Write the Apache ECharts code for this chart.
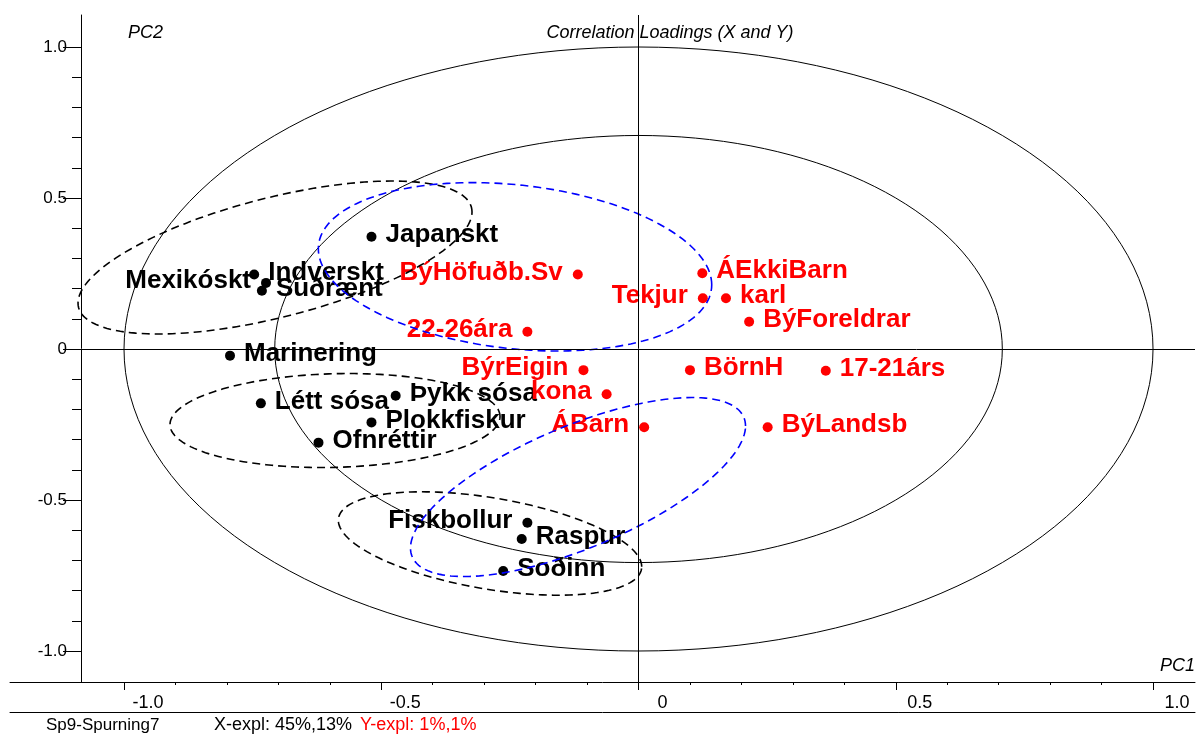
<!DOCTYPE html>
<html>
<head>
<meta charset="utf-8">
<style>
  html, body { margin: 0; padding: 0; background: #fff; }
  #chart { width: 1203px; height: 734px; }
</style>
<script src="https://cdn.jsdelivr.net/npm/echarts@6.0.0/dist/echarts.min.js"></script>
</head>
<body>
<div id="chart"></div>
<script>
// ---------- data ----------
const blackNames = ['Japanskt', 'Indverskt', 'Mexikóskt', 'Suðrænt', 'Marinering', 'Létt sósa',
                    'Þykk sósa', 'Plokkfiskur', 'Ofnréttir', 'Fiskbollur', 'Raspur', 'Soðinn'];
const blackX = [-0.519, -0.747, -0.724, -0.732, -0.794, -0.734, -0.472, -0.519, -0.622, -0.216, -0.227, -0.263];
const blackY = [ 0.372,  0.247,  0.219,  0.193, -0.022, -0.180, -0.155, -0.243, -0.310, -0.575, -0.629, -0.735];
const blackSide = ['R', 'R', 'L', 'R', 'R', 'R', 'R', 'R', 'R', 'L', 'R', 'R'];

const redNames = ['BýHöfuðb.Sv', 'ÁEkkiBarn', 'Tekjur', 'karl', 'BýForeldrar', '22-26ára',
                  'BýrEigin', 'BörnH', '17-21árs', 'kona', 'ÁBarn', 'BýLandsb'];
const redX = [-0.118, 0.124, 0.125, 0.170, 0.215, -0.216, -0.107, 0.100, 0.364, -0.062, 0.011, 0.251];
const redY = [ 0.247, 0.251, 0.168, 0.168, 0.090,  0.057, -0.070, -0.070, -0.072, -0.150, -0.259, -0.259];
const redSide = ['L', 'R', 'L', 'R', 'R', 'L', 'L', 'R', 'R', 'L', 'L', 'R'];

// correlation circles (radius in data units)
const circleRadii = [1.0, 0.7071];

// dashed group ellipses: [centerX, centerY, halfWidthX, halfHeightY, yOffsetAtRightmostPoint]
const blackEllipses = [
  [-0.7065,  0.3030, 0.3829, 0.2533,  0.1507],
  [-0.5899, -0.2368, 0.3207, 0.1556,  0.0132],
  [-0.2886, -0.6440, 0.2948, 0.1712, -0.0768]
];
const blueEllipses = [
  [-0.2400,  0.2722, 0.3823, 0.2788, -0.0596],
  [-0.1176, -0.4570, 0.3256, 0.2964,  0.2020]
];

// axes
const xTickValues = [-1.0, -0.5, 0, 0.5, 1.0];
const xTickLabels = ['-1.0', '-0.5', '0', '0.5', '1.0'];
const yTickValues = [-1.0, -0.5, 0, 0.5, 1.0];
const yTickLabels = ['-1.0', '-0.5', '0', '0.5', '1.0'];
const X_MIN = -1.2216, X_MAX = 1.0816;
const Y_MIN = -1.1026, Y_MAX = 1.1060;
const Y_AXIS_AT = -1.0836; // x value where the vertical axis sits

// ---------- helpers ----------
const FONT = "'Liberation Sans', Arial, Helvetica, sans-serif";
function minorValues(vals) {
  const out = [];
  for (let i = 0; i < vals.length - 1; i++) {
    const step = (vals[i + 1] - vals[i]) / 5;
    for (let k = 1; k < 5; k++) out.push(+(vals[i] + step * k).toFixed(4));
  }
  return out;
}
function labelFor(values, labels) {
  return function (v) {
    const i = values.findIndex(t => Math.abs(t - v) < 1e-6);
    return i >= 0 ? labels[i] : '';
  };
}
function pointItems(names, xs, ys, sides) {
  return names.map((n, i) => ({
    name: n,
    value: [xs[i], ys[i]],
    label: sides[i] === 'L'
      ? { position: 'left', distance: 10 }
      : { position: 'right', distance: 9 }
  }));
}
function ellipseRender(color, dash, width) {
  return function (params, api) {
    const cx = api.value(0), cy = api.value(1), xe = api.value(2), ye = api.value(3), yr = api.value(4);
    const w = Math.sqrt(Math.max(ye * ye - yr * yr, 0));
    const pts = [];
    const N = 160;
    for (let k = 0; k < N; k++) {
      const t = (k / N) * Math.PI * 2;
      pts.push(api.coord([cx + xe * Math.cos(t), cy + yr * Math.cos(t) + w * Math.sin(t)]));
    }
    return {
      type: 'polygon',
      shape: { points: pts },
      style: { fill: 'none', stroke: color, lineWidth: width, lineDash: dash }
    };
  };
}

const chart = echarts.init(document.getElementById('chart'), null, { renderer: 'canvas' });

const baseX = { type: 'value', min: X_MIN, max: X_MAX, position: 'bottom', splitLine: { show: false } };
const baseY = { type: 'value', min: Y_MIN, max: Y_MAX, position: 'left', offset: -71, splitLine: { show: false } };

const option = {
  animation: false,
  backgroundColor: '#fff',
  grid: { left: 10, right: 8, top: 15, bottom: 52 },
  xAxis: [
    Object.assign({}, baseX, {
      axisLine: { onZero: false, lineStyle: { color: '#000', width: 1 } },
      axisTick: { show: true, customValues: xTickValues, length: 8, lineStyle: { color: '#000' } },
      axisLabel: {
        customValues: xTickValues, formatter: labelFor(xTickValues, xTickLabels),
        fontSize: 18, color: '#000', fontFamily: FONT, margin: 12, padding: [0, 0, 0, 48]
      }
    }),
    Object.assign({}, baseX, {
      axisLine: { show: false, onZero: false },
      axisTick: { show: true, customValues: minorValues(xTickValues), length: 3, lineStyle: { color: '#000' } },
      axisLabel: { show: false }
    }),
    Object.assign({}, baseX, {
      offset: 30,
      axisLine: { onZero: false, lineStyle: { color: '#000', width: 1 } },
      axisTick: { show: false },
      axisLabel: { show: false }
    })
  ],
  yAxis: [
    Object.assign({}, baseY, {
      axisLine: { onZero: false, lineStyle: { color: '#000', width: 1 } },
      axisTick: { show: true, customValues: yTickValues, length: 18, lineStyle: { color: '#000' } },
      axisLabel: {
        customValues: yTickValues, formatter: labelFor(yTickValues, yTickLabels),
        fontSize: 17, color: '#000', fontFamily: FONT, margin: 14
      }
    }),
    Object.assign({}, baseY, {
      axisLine: { show: false, onZero: false },
      axisTick: { show: true, customValues: minorValues(yTickValues), length: 9, lineStyle: { color: '#000' } },
      axisLabel: { show: false }
    })
  ],
  graphic: [
    { type: 'text', x: 670, y: 33, style: { text: 'Correlation Loadings (X and Y)', fill: '#000',
      font: 'italic 18px ' + FONT, align: 'center', verticalAlign: 'middle' } },
    { type: 'text', x: 128, y: 33, style: { text: 'PC2', fill: '#000',
      font: 'italic 18px ' + FONT, align: 'left', verticalAlign: 'middle' } },
    { type: 'text', x: 1195, y: 666, style: { text: 'PC1', fill: '#000',
      font: 'italic 18px ' + FONT, align: 'right', verticalAlign: 'middle' } },
    { type: 'text', x: 46, y: 725, style: { text: 'Sp9-Spurning7', fill: '#000',
      font: '17px ' + FONT, align: 'left', verticalAlign: 'middle' } },
    { type: 'text', x: 214, y: 725, style: { text: 'X-expl: 45%,13%', fill: '#000',
      font: '18px ' + FONT, align: 'left', verticalAlign: 'middle' } },
    { type: 'text', x: 360, y: 725, style: { text: 'Y-expl: 1%,1%', fill: '#ff0000',
      font: '18px ' + FONT, align: 'left', verticalAlign: 'middle' } }
  ],
  series: [
    {
      type: 'custom', name: 'circles', z: 1, silent: true,
      data: circleRadii.map(r => [0, 0, r, r, 0]),
      renderItem: ellipseRender('#000', null, 1),
      markLine: {
        silent: true, symbol: ['none', 'none'], label: { show: false },
        lineStyle: { color: '#000', type: 'solid', width: 1, opacity: 1 },
        emphasis: { disabled: true },
        data: [
          { xAxis: 0 },
          [{ coord: [Y_AXIS_AT, 0] }, { coord: [X_MAX, 0] }]
        ]
      }
    },
    {
      type: 'scatter', name: 'X', z: 2, silent: true,
      symbol: 'circle', symbolSize: 10,
      itemStyle: { color: '#000', opacity: 1 },
      label: { show: true, formatter: '{b}', color: '#000', opacity: 1, fontSize: 26, fontWeight: 'bold',
               fontFamily: FONT, offset: [0, -2] },
      data: pointItems(blackNames, blackX, blackY, blackSide)
    },
    {
      type: 'scatter', name: 'Y', z: 2, silent: true,
      symbol: 'circle', symbolSize: 10,
      itemStyle: { color: '#ff0000', opacity: 1 },
      label: { show: true, formatter: '{b}', color: '#ff0000', opacity: 1, fontSize: 26, fontWeight: 'bold',
               fontFamily: FONT, offset: [0, -2] },
      data: pointItems(redNames, redX, redY, redSide)
    },
    {
      type: 'custom', name: 'blackGroups', z: 3, silent: true,
      data: blackEllipses,
      renderItem: ellipseRender('#000', [8, 5], 1.6)
    },
    {
      type: 'custom', name: 'blueGroups', z: 3, silent: true,
      data: blueEllipses,
      renderItem: ellipseRender('#0000ff', [8, 5], 1.6)
    }
  ]
};
chart.setOption(option);
</script>
</body>
</html>
